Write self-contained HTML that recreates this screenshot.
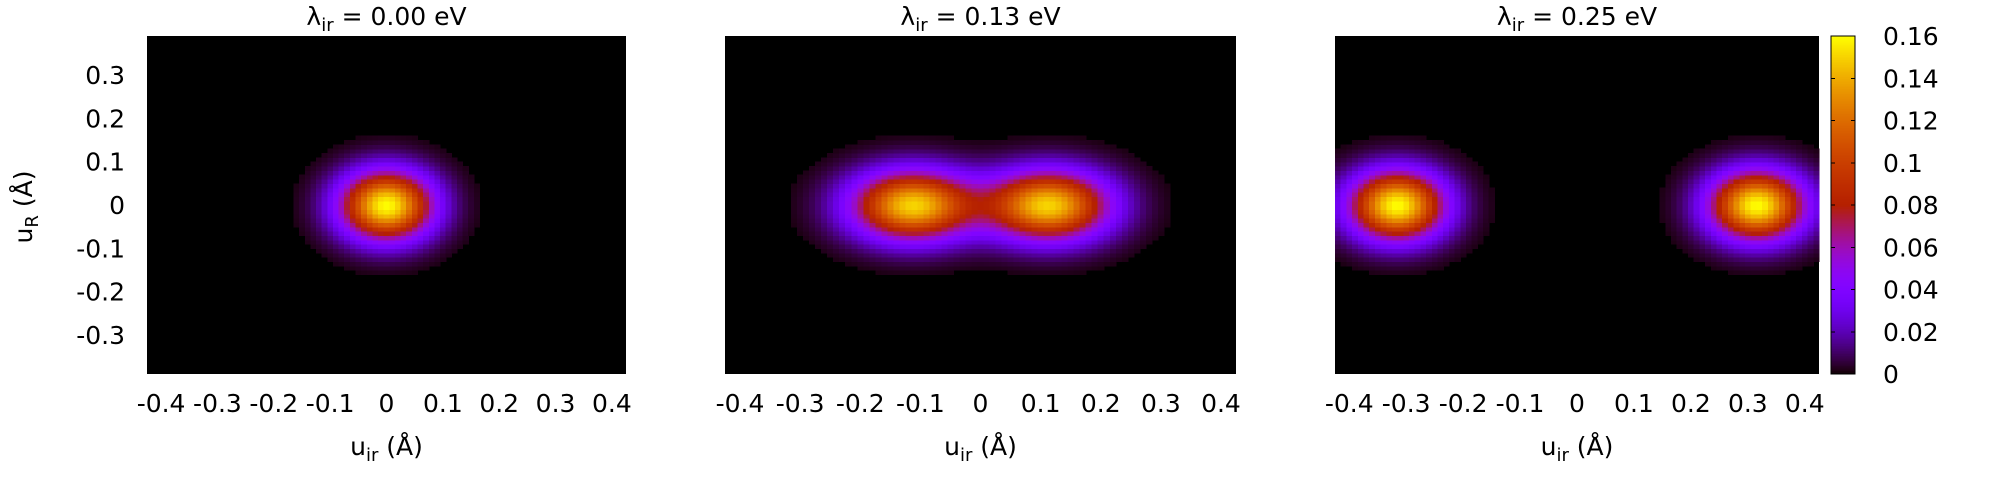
<!DOCTYPE html>
<html><head><meta charset="utf-8">
<style>
html,body{margin:0;padding:0;background:#fff;}
svg{display:block;font-family:"DejaVu Sans","Liberation Sans",sans-serif;}
text{fill:#000;}
</style></head>
<body>
<svg id="chart" width="2000" height="500" viewBox="0 0 2000 500" xmlns="http://www.w3.org/2000/svg"></svg>
<script>
// ---- data ----
const panelTitles = ["0.00", "0.13", "0.25"];
const xTicks = [-0.4, -0.3, -0.2, -0.1, 0, 0.1, 0.2, 0.3, 0.4];
const xTickLabels = ["-0.4","-0.3","-0.2","-0.1","0","0.1","0.2","0.3","0.4"];
const yTicks = [0.3, 0.2, 0.1, 0, -0.1, -0.2, -0.3];
const yTickLabels = ["0.3","0.2","0.1","0","-0.1","-0.2","-0.3"];
const cbTicks = [0, 0.02, 0.04, 0.06, 0.08, 0.1, 0.12, 0.14, 0.16];
const cbTickLabels = ["0","0.02","0.04","0.06","0.08","0.1","0.12","0.14","0.16"];
// gaussian lobe centres (u_ir) for each panel
const lobeCentersP1 = [0];
const lobeCentersP2 = [-0.113, 0.113];
const lobeCentersP3 = [-0.316, 0.316];
const lobePeaks = [0.16, 0.15, 0.16];
const sigmaX = [0.057, 0.07, 0.058];
const sigmaY = [0.055, 0.055, 0.055];
const cbMax = 0.16;

const svg = document.getElementById('chart');
const NS = 'http://www.w3.org/2000/svg';
function mk(tag, attrs, parent){
  const e = document.createElementNS(NS, tag);
  for (const k in attrs) e.setAttribute(k, attrs[k]);
  (parent||svg).appendChild(e);
  return e;
}
function pal(t){
  t = Math.max(0, Math.min(1, t));
  const r = Math.sqrt(t), g = t*t*t, b = Math.max(0, Math.sin(2*Math.PI*t));
  return `rgb(${Math.round(r*255)},${Math.round(g*255)},${Math.round(b*255)})`;
}
const panels = [
  {x0:147, x1:626, centers:lobeCentersP1},
  {x0:725, x1:1236, centers:lobeCentersP2},
  {x0:1335, x1:1819, centers:lobeCentersP3}
];
const yTop = 36, yBot = 374;
const xMin = -0.425, xMax = 0.425, yMin = -0.39, yMax = 0.39;

panels.forEach((p, i) => {
  const sx = v => p.x0 + (v - xMin) / (xMax - xMin) * (p.x1 - p.x0);
  const sy = v => yBot - (v - yMin) / (yMax - yMin) * (yBot - yTop);
  const g = mk('g', {});
  
  
  const bg = mk('rect', {x:p.x0, y:yTop, width:p.x1-p.x0, height:yBot-yTop, fill:'#000'}, g);
  
  
  const step = 0.01;
  const cells = mk('g', {'shape-rendering':'crispEdges'}, g);
  
  
  const peak = lobePeaks[i];
  for (let x = xMin; x < xMax; x += step) {
    for (let y = yMin; y < yMax; y += step) {
      const cx = x + step/2, cy = y + step/2;
      let v = 0;
      p.centers.forEach(c => {
        v += peak * Math.exp(-((cx-c)*(cx-c))/(2*sigmaX[i]*sigmaX[i]) - (cy*cy)/(2*sigmaY[i]*sigmaY[i]));
      });
      if (v < 0.002) continue;
      const X0 = sx(x), X1 = sx(Math.min(x+step, xMax));
      const Y0 = sy(Math.min(y+step, yMax)), Y1 = sy(y);
      const r = mk('rect', {x:X0.toFixed(2), y:Y0.toFixed(2), width:(X1-X0+0.6).toFixed(2), height:(Y1-Y0+0.6).toFixed(2), fill:pal(v/cbMax)}, cells);
      
      
    }
  }
  const cx = (p.x0 + p.x1)/2;
  const t = mk('text', {x:cx, y:25, 'font-size':25, 'text-anchor':'middle'});
  
  
  t.innerHTML = 'λ<tspan font-size="18" dy="6">ir</tspan><tspan dy="-6"> = ' + panelTitles[i] + ' eV</tspan>';
  xTicks.forEach((v, k) => {
    const lbl = mk('text', {x:sx(v), y:412, 'font-size':25, 'text-anchor':'middle'});
    
    
    lbl.textContent = xTickLabels[k];
  });
  const xl = mk('text', {x:cx, y:455, 'font-size':25, 'text-anchor':'middle'});
  
  
  xl.innerHTML = 'u<tspan font-size="18" dy="6">ir</tspan><tspan dy="-6"> (Å)</tspan>';
  if (i === 0) {
    yTicks.forEach((v, k) => {
      const lbl = mk('text', {x:125, y:sy(v)+9, 'font-size':25, 'text-anchor':'end'});
      
      
      lbl.textContent = yTickLabels[k];
    });
    const yl = mk('text', {x:0, y:0, 'font-size':25, 'text-anchor':'middle', transform:'translate(32,207) rotate(-90)'});
    
    
    yl.innerHTML = 'u<tspan font-size="18" dy="6">R</tspan><tspan dy="-6"> (Å)</tspan>';
  }
});

// colorbar
const cbX0 = 1831, cbX1 = 1855;
const cb = mk('g', {'shape-rendering':'crispEdges'});


const cy = v => yBot - v / cbMax * (yBot - yTop);
for (let k = 0; k < 200; k++) {
  const v0 = k / 200 * cbMax, v1 = (k+1) / 200 * cbMax;
  const r = mk('rect', {x:cbX0, y:cy(v1), width:cbX1-cbX0, height:cy(v0)-cy(v1)+0.5, fill:pal((v0+v1)/2/cbMax)}, cb);
  
  
}
const border = mk('rect', {x:cbX0, y:yTop, width:cbX1-cbX0, height:yBot-yTop, fill:'none', stroke:'#000', 'stroke-width':1}, cb);


cbTicks.forEach((v, k) => {
  const y = cy(v);
  const t1 = mk('line', {x1:cbX0, x2:cbX0+4, y1:y, y2:y, stroke:'#000'}, cb);
  
  
  const t2 = mk('line', {x1:cbX1-4, x2:cbX1, y1:y, y2:y, stroke:'#000'}, cb);
  
  
  const lbl = mk('text', {x:1883, y:y+9, 'font-size':25, 'text-anchor':'start'});
  
  
  lbl.textContent = cbTickLabels[k];
});
</script>
</body></html>
